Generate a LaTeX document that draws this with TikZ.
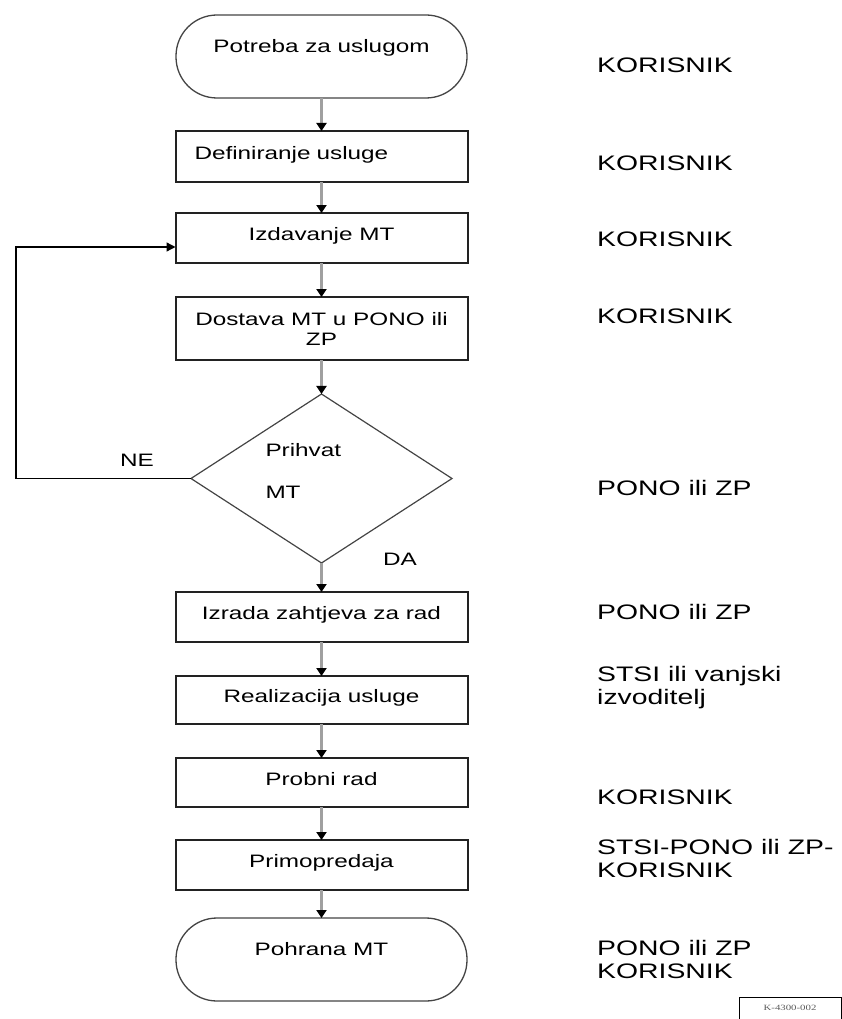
\documentclass[tikz,border=0pt]{standalone}
\usepackage{fontspec}
\setmainfont{Liberation Sans}[FakeStretch=1.35]
\newfontfamily\codeFont{Liberation Serif}[FakeStretch=1.35]
\usepackage{xcolor}
\definecolor{lineGray}{HTML}{A0A0A0}
\definecolor{boxDark}{HTML}{222222}
\definecolor{edgeGray}{HTML}{444444}
\usetikzlibrary{positioning,shapes.geometric,arrows.meta}
\tikzset{%
  termBox/.style={%
    rectangle,
    rounded corners=41pt,
    draw=edgeGray,
    line width=1.3pt,
    outer sep=0pt,
    minimum width=291pt,
    minimum height=83pt,
    align=center,
    font=\fontsize{18}{21}\selectfont
  },
  stepBox/.style={%
    rectangle,
    draw=boxDark,
    line width=2pt,
    outer sep=0pt,
    minimum width=292pt,
    minimum height=50pt,
    align=center,
    text depth=8pt,
    font=\fontsize{18}{20}\selectfont
  },
  decisionBox/.style={%
    diamond,
    draw=edgeGray,
    line width=1.2pt,
    outer sep=0pt,
    aspect=1.54,
    inner sep=0pt,
    minimum width=261pt,
    minimum height=169pt,
    text width=112pt,
    text depth=57pt,
    align=left,
    font=\fontsize{18}{21}\selectfont
  },
  flowArrow/.style={%
    draw=lineGray,
    line width=3pt,
    -{Triangle[color=black,length=8pt,width=10pt]}
  },
  loopArrow/.style={%
    draw=black,
    line width=1.3pt,
    -{Triangle[length=9pt,width=9pt]}
  },
  branchText/.style={%
    inner sep=0pt,
    font=\fontsize{18}{21}\selectfont
  },
  roleText/.style={%
    anchor=west,
    align=left,
    inner sep=0pt,
    font=\fontsize{21}{23}\selectfont
  },
  codeBox/.style={%
    rectangle,
    draw=black,
    line width=1pt,
    minimum width=102pt,
    minimum height=22pt,
    text=black!65,
    font=\codeFont\fontsize{8}{9}\selectfont
  }
}
\begin{document}
\begin{tikzpicture}[x=1pt,y=-1pt]
  \useasboundingbox (0,0) rectangle (841,1019);

  \node[termBox] (need) at (321.5,56.5) {Potreba za uslugom\\ \mbox{}};
  \node[stepBox, minimum height=51pt, align=left, text width=254pt, inner xsep=19pt, below=33pt of need] (define) {Definiranje usluge};
  \node[stepBox, below=31pt of define] (issue) {Izdavanje MT};
  \node[stepBox, minimum height=63pt, text depth=0pt, below=34pt of issue] (deliver) {Dostava MT u PONO ili\\ZP};
  \node[decisionBox, below=34pt of deliver] (accept) {Prihvat\\[21pt]MT};
  \node[stepBox, below=29pt of accept] (request) {Izrada zahtjeva za rad};
  \node[stepBox, minimum height=48pt, below=34pt of request] (realize) {Realizacija usluge};
  \node[stepBox, minimum height=49pt, below=34pt of realize] (trial) {Probni rad};
  \node[stepBox, below=33pt of trial] (handover) {Primopredaja};
  \node[termBox, below=28pt of handover] (store) {Pohrana MT\\ \mbox{}};

  \draw[flowArrow] (need) -- (define);
  \draw[flowArrow] (define) -- (issue);
  \draw[flowArrow] (issue) -- (deliver);
  \draw[flowArrow] (deliver) -- (accept);
  \draw[flowArrow] (accept) -- (request);
  \draw[flowArrow] (request) -- (realize);
  \draw[flowArrow] (realize) -- (trial);
  \draw[flowArrow] (trial) -- (handover);
  \draw[flowArrow] (handover) -- (store);
  \draw[loopArrow] (accept.west) -- ++(-175,0) |- ([yshift=-9pt]issue.west);

  \node[branchText] (no) at (137,460) {NE};
  \node[branchText] (yes) at (400,559) {DA};

  \node[roleText] (role1) at (597,65) {KORISNIK};
  \node[roleText] (role2) at (597,163) {KORISNIK};
  \node[roleText] (role3) at (597,239) {KORISNIK};
  \node[roleText] (role4) at (597,316) {KORISNIK};
  \node[roleText] (role5) at (597,488) {PONO ili ZP};
  \node[roleText] (role6) at (597,612) {PONO ili ZP};
  \node[roleText] (role7) at (597,688) {STSI ili vanjski\\izvoditelj};
  \node[roleText] (role8) at (597,797) {KORISNIK};
  \node[roleText] (role9) at (597,858) {STSI-PONO ili ZP-\\KORISNIK};
  \node[roleText] (role10) at (597,959) {PONO ili ZP\\KORISNIK};

  \node[codeBox] (code) at (790,1008) {K-4300-002};
\end{tikzpicture}
\end{document}
